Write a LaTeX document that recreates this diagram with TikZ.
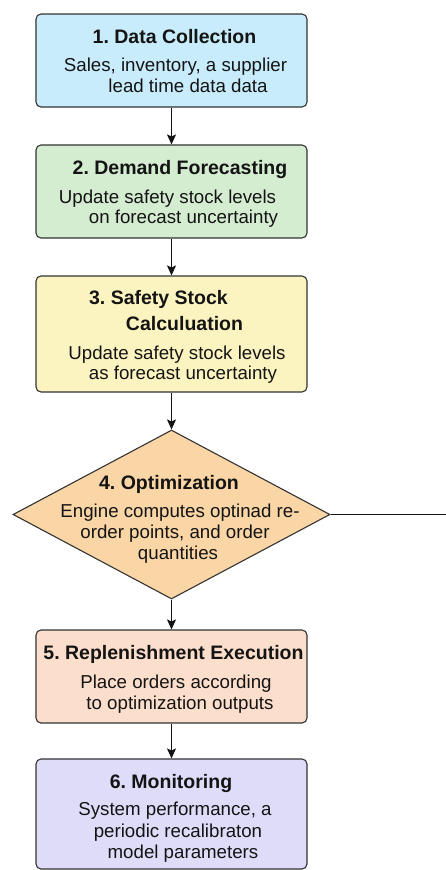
\documentclass[tikz,border=0pt]{standalone}
\usepackage{fontspec}
\setmainfont{Liberation Sans}
\usetikzlibrary{shapes.geometric,arrows.meta}
\frenchspacing

\definecolor{edge}{HTML}{333333}
\definecolor{ink}{HTML}{141414}
\definecolor{fillA}{RGB}{200,236,251}
\definecolor{fillB}{RGB}{212,236,208}
\definecolor{fillC}{RGB}{252,244,192}
\definecolor{fillD}{RGB}{250,214,166}
\definecolor{fillE}{RGB}{252,222,204}
\definecolor{fillF}{RGB}{222,220,249}

\tikzset{
  stepbox/.style={draw=edge, line width=1.1pt, rounded corners=5pt,
    minimum width=271pt, inner sep=0pt},
  decision/.style={draw=edge, line width=1.1pt, diamond, inner sep=0pt,
    minimum width=317pt, minimum height=169pt},
  headline/.style={anchor=base, text=ink, inner sep=0pt,
    font=\fontsize{19.5}{22}\selectfont\bfseries},
  bodyline/.style={anchor=base, text=ink, inner sep=0pt,
    font=\fontsize{18.7}{22}\selectfont},
  flow/.style={draw=ink, line width=1.2pt,
    -{Stealth[length=10pt,width=9pt,inset=2pt]}},
}

\begin{document}
\begin{tikzpicture}[x=1pt, y=-1pt]
\useasboundingbox (0,0) rectangle (446,870);
\fill[white] (0,0) rectangle (446,870);

% process steps
\node[stepbox, fill=fillA, minimum height=93pt]  (s1) at (171.5,60.5) {};
\node[stepbox, fill=fillB, minimum height=93pt]  (s2) at (171.5,191.5) {};
\node[stepbox, fill=fillC, minimum height=116pt] (s3) at (171.5,334) {};
\node[decision, fill=fillD] (s4) at (171.5,514.5) {};
\node[stepbox, fill=fillE, minimum height=93pt]  (s5) at (171.5,676.5) {};
\node[stepbox, fill=fillF, minimum height=110pt] (s6) at (171.5,814) {};
\coordinate (out) at (446,514.5);

% connectors
\draw[flow] (s1.south) -- (s2.north);
\draw[flow] (s2.south) -- (s3.north);
\draw[flow] (s3.south) -- (s4.north);
\draw[flow] (s4.south) -- (s5.north);
\draw[flow] (s5.south) -- (s6.north);
\draw[draw=ink, line width=1.2pt] (s4.east) -- (out);

% step 1
\node[headline] (t1)  at (174.5,43.5) {1. Data Collection};
\node[bodyline] (t1a) at (175.5,71.5) {Sales, inventory, a supplier};
\node[bodyline] (t1b) at (188,92.5)   {lead time data data};

% step 2
\node[headline] (t2)  at (180,174.5)   {2. Demand Forecasting};
\node[bodyline] (t2a) at (167.5,203.5) {Update safety stock levels};
\node[bodyline] (t2b) at (183.5,223.5) {on forecast uncertainty};

% step 3
\node[headline] (t3)  at (158.5,304.5) {3. Safety Stock};
\node[headline] (t3b) at (184.5,330.5) {Calculuation};
\node[bodyline] (t3c) at (177,359.5)   {Update safety stock levels};
\node[bodyline] (t3d) at (183,379.5)   {as forecast uncertainty};

% step 4
\node[headline] (t4)  at (169,489.5) {4. Optimization};
\node[bodyline] (t4a) at (180,517.5) {Engine computes optinad re-};
\node[bodyline] (t4b) at (175,538.5) {order points, and order};
\node[bodyline] (t4c) at (178,559.5) {quantities};

% step 5
\node[headline] (t5)  at (173.5,659.5) {5. Replenishment Execution};
\node[bodyline] (t5a) at (176,688.5)   {Place orders according};
\node[bodyline] (t5b) at (180,709.5)   {to optimization outputs};

% step 6
\node[headline] (t6)  at (171,788.5) {6. Monitoring};
\node[bodyline] (t6a) at (175,815.5) {System performance, a};
\node[bodyline] (t6b) at (178,837.5) {periodic recalibraton};
\node[bodyline] (t6c) at (183,858.5) {model parameters};
\end{tikzpicture}
\end{document}
